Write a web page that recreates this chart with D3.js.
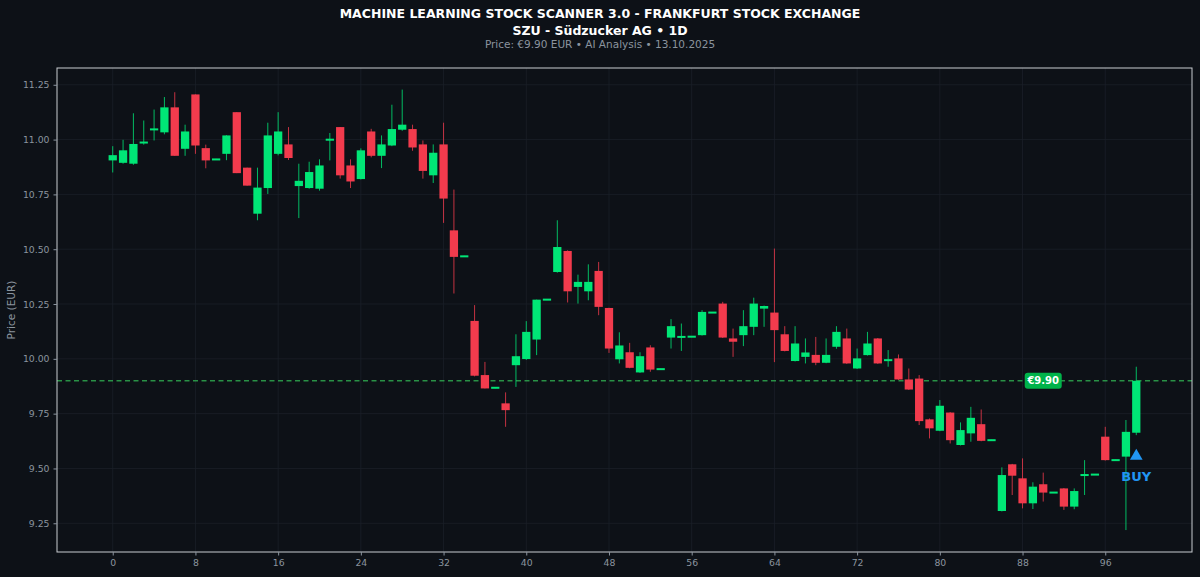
<!DOCTYPE html>
<html>
<head>
<meta charset="utf-8">
<script src="https://cdn.jsdelivr.net/npm/d3@7"></script>
<style>
  html, body { margin: 0; padding: 0; background: #0d1117; }
  svg { display: block; }
  text { font-family: "DejaVu Sans", sans-serif; }
</style>
</head>
<body>
<svg id="chart" width="1200" height="577"></svg>
<script>
// ---- Data ----
const titleMain = "MACHINE LEARNING STOCK SCANNER 3.0 - FRANKFURT STOCK EXCHANGE";
const titleSub = "SZU - Südzucker AG • 1D";
const titleInfo = "Price: €9.90 EUR • AI Analysis • 13.10.2025";
const yLabel = "Price (EUR)";

const openP = [10.905,10.894,10.89,10.984,11.045,11.033,11.147,10.958,11.206,10.961,
  10.908,10.935,11.125,10.872,10.662,10.779,10.935,10.978,10.788,10.779,
  10.776,10.998,11.057,10.882,10.82,11.037,10.926,10.973,11.045,11.048,
  10.978,10.837,10.978,10.586,10.466,10.173,9.926,9.867,9.797,9.971,
  9.999,10.088,10.269,10.396,10.492,10.328,10.308,10.401,10.232,9.998,
  10.03,9.938,10.052,9.952,10.097,10.099,10.1,10.108,10.21,10.252,
  10.093,10.108,10.146,10.229,10.211,10.112,9.99,10.009,10.018,9.982,
  10.055,10.093,9.956,10.017,10.093,9.993,10.002,9.906,9.91,9.724,
  9.672,9.755,9.607,9.66,9.702,9.628,9.306,9.519,9.455,9.341,
  9.428,9.389,9.409,9.326,9.469,9.471,9.645,9.537,9.554,9.663];
const highP = [10.97,10.999,11.12,11.087,11.137,11.194,11.216,11.068,11.206,10.977,
  10.912,11.02,11.125,10.872,10.872,11.077,11.125,11.057,10.89,10.899,
  10.91,11.03,11.057,10.91,10.96,11.049,11.019,11.159,11.228,11.068,
  10.996,10.978,11.077,10.772,10.47,10.245,9.986,9.87,9.847,10.112,
  10.172,10.27,10.272,10.632,10.495,10.384,10.431,10.442,10.233,10.121,
  10.073,10.03,10.062,9.955,10.181,10.161,10.103,10.222,10.213,10.26,
  10.138,10.222,10.279,10.243,10.503,10.149,10.149,10.093,10.1,10.093,
  10.149,10.138,10.047,10.123,10.095,10.04,10.02,9.956,9.926,9.728,
  9.812,9.757,9.71,9.781,9.769,9.631,9.505,9.521,9.546,9.437,
  9.481,9.392,9.411,9.409,9.538,9.474,9.69,9.54,9.721,9.964];
const lowP = [10.85,10.89,10.885,10.977,10.996,11.024,10.926,10.926,10.935,10.869,
  10.907,10.906,10.847,10.79,10.632,10.752,10.928,10.907,10.642,10.776,
  10.767,10.905,10.822,10.779,10.818,10.919,10.87,10.97,11.04,10.949,
  10.822,10.802,10.62,10.298,10.465,9.92,9.865,9.866,9.69,9.872,
  9.995,10.017,10.268,10.393,10.257,10.252,10.267,10.199,10.027,9.979,
  9.957,9.936,9.941,9.951,10.047,10.036,10.099,10.106,10.209,10.095,
  10.009,10.058,10.108,10.146,9.985,10.034,9.988,9.979,9.971,9.98,
  10.046,9.977,9.954,10.015,9.977,9.964,9.904,9.858,9.698,9.637,
  9.67,9.614,9.605,9.622,9.624,9.627,9.304,9.379,9.318,9.315,
  9.349,9.388,9.311,9.314,9.379,9.47,9.536,9.536,9.219,9.652];
const closeP = [10.929,10.951,10.98,10.989,11.048,11.147,10.926,11.037,10.973,10.905,
  10.911,11.019,10.847,10.79,10.781,11.019,11.037,10.916,10.812,10.852,
  10.882,11.001,10.837,10.809,10.951,10.926,10.978,11.048,11.068,10.964,
  10.857,10.94,10.731,10.465,10.469,9.923,9.865,9.869,9.766,10.012,
  10.123,10.27,10.271,10.51,10.308,10.351,10.351,10.237,10.047,10.061,
  9.959,10.012,9.951,9.954,10.149,10.101,10.102,10.214,10.212,10.097,
  10.078,10.149,10.252,10.241,10.131,10.036,10.07,10.029,9.982,10.018,
  10.123,9.979,10.002,10.07,9.979,9.995,9.906,9.86,9.716,9.683,
  9.786,9.629,9.675,9.731,9.626,9.63,9.47,9.467,9.341,9.417,
  9.39,9.391,9.326,9.397,9.471,9.473,9.538,9.539,9.667,9.90];
const xTicks = [0,8,16,24,32,40,48,56,64,72,80,88,96];
const yTicks = [9.25,9.50,9.75,10.00,10.25,10.50,10.75,11.00,11.25];
const currentPrice = 9.90;
const priceLabel = "€9.90";
const priceLabelX = 90;
const signalIndex = 99;
const signalPrice = 9.556;
const signalText = "BUY";

// ---- Layout ----
const svg = d3.select("#chart");
const W = 1200, H = 577;
const plot = { left: 57, right: 1192, top: 68, bottom: 552 };
const C = {
  bg: "#0d1117", up: "#00e676", down: "#f23b4d", grid: "#1b2028",
  frame: "#c9cdd2", tick: "#8b949e", dash: "#2ea84f", badge: "#00b34a", buy: "#2196f3"
};

svg.append("rect").attr("width", W).attr("height", H).attr("fill", C.bg);

const data = openP.map((o, i) => ({ i, o, h: highP[i], l: lowP[i], c: closeP[i] }));

const x = d3.scaleLinear().domain([-5.39, 104.39]).range([plot.left, plot.right]);
const y = d3.scaleLinear().domain([9.119, 11.3265]).range([plot.bottom, plot.top]);

// grid
const g = svg.append("g");
g.selectAll(".gx").data(xTicks).join("line")
  .attr("x1", d => x(d)).attr("x2", d => x(d))
  .attr("y1", plot.top).attr("y2", plot.bottom)
  .attr("stroke", C.grid).attr("stroke-width", 0.8);
g.selectAll(".gy").data(yTicks).join("line")
  .attr("x1", plot.left).attr("x2", plot.right)
  .attr("y1", d => y(d)).attr("y2", d => y(d))
  .attr("stroke", C.grid).attr("stroke-width", 0.8);

// current price dashed line
svg.append("line")
  .attr("x1", plot.left).attr("x2", plot.right)
  .attr("y1", y(currentPrice)).attr("y2", y(currentPrice))
  .attr("stroke", C.dash).attr("stroke-width", 1.3)
  .attr("stroke-dasharray", "5,3.5").attr("opacity", 0.85);

// candles
const bw = x(0.8) - x(0);
const cg = svg.append("g");
cg.selectAll(".wick").data(data).join("line")
  .attr("x1", d => x(d.i)).attr("x2", d => x(d.i))
  .attr("y1", d => y(d.h)).attr("y2", d => y(d.l))
  .attr("stroke", d => d.c >= d.o ? C.up : C.down)
  .attr("stroke-width", 1).attr("opacity", 0.8);
cg.selectAll(".body").data(data).join("rect")
  .attr("x", d => x(d.i) - bw / 2)
  .attr("width", bw)
  .attr("y", d => {
    const top = y(Math.max(d.o, d.c));
    const hgt = Math.abs(y(d.o) - y(d.c));
    return hgt < 2 ? (top + hgt / 2 - 1) : top;
  })
  .attr("height", d => Math.max(2, Math.abs(y(d.o) - y(d.c))))
  .attr("fill", d => d.c >= d.o ? C.up : C.down);

// price badge
const bx = x(priceLabelX), by = y(currentPrice);
svg.append("rect").attr("x", bx - 18.5).attr("y", by - 8).attr("width", 37).attr("height", 16)
  .attr("rx", 3).attr("fill", C.badge);
svg.append("text").attr("x", bx).attr("y", by + 3.5).attr("text-anchor", "middle")
  .attr("fill", "#ffffff").attr("font-size", 10).attr("font-weight", "bold").text(priceLabel);

// BUY signal
const sx = x(signalIndex), sy = y(signalPrice);
svg.append("path")
  .attr("d", d3.symbol().type(d3.symbolTriangle).size(70)())
  .attr("transform", `translate(${sx},${sy})`)
  .attr("fill", C.buy);
svg.append("text").attr("x", sx).attr("y", sy + 25).attr("text-anchor", "middle")
  .attr("fill", C.buy).attr("font-size", 13).attr("font-weight", "bold").text(signalText);

// frame
svg.append("rect").attr("x", plot.left).attr("y", plot.top)
  .attr("width", plot.right - plot.left).attr("height", plot.bottom - plot.top)
  .attr("fill", "none").attr("stroke", C.frame).attr("stroke-width", 1);

// axes
const xAxis = d3.axisBottom(x).tickValues(xTicks).tickFormat(d3.format("d")).tickSize(3.5).tickPadding(4);
const yAxis = d3.axisLeft(y).tickValues(yTicks).tickFormat(d3.format(".2f")).tickSize(3.5).tickPadding(4);
const xa = svg.append("g").attr("transform", `translate(0,${plot.bottom})`).call(xAxis);
const ya = svg.append("g").attr("transform", `translate(${plot.left},0)`).call(yAxis);
[xa, ya].forEach(a => {
  a.select(".domain").remove();
  a.selectAll(".tick line").attr("stroke", C.tick);
  a.selectAll(".tick text").attr("fill", C.tick).attr("font-size", 9.3)
    .attr("font-family", "DejaVu Sans, sans-serif");
});

// y label
svg.append("text").attr("transform", `translate(15,${(plot.top + plot.bottom) / 2}) rotate(-90)`)
  .attr("text-anchor", "middle").attr("fill", C.tick).attr("font-size", 10.5).text(yLabel);

// titles
svg.append("text").attr("x", 600).attr("y", 18).attr("text-anchor", "middle")
  .attr("fill", "#ffffff").attr("font-size", 12.5).attr("font-weight", "bold").text(titleMain);
svg.append("text").attr("x", 600).attr("y", 35).attr("text-anchor", "middle")
  .attr("fill", "#ffffff").attr("font-size", 12.5).attr("font-weight", "bold").text(titleSub);
svg.append("text").attr("x", 600).attr("y", 48).attr("text-anchor", "middle")
  .attr("fill", C.tick).attr("font-size", 10.5).text(titleInfo);
</script>
</body>
</html>
